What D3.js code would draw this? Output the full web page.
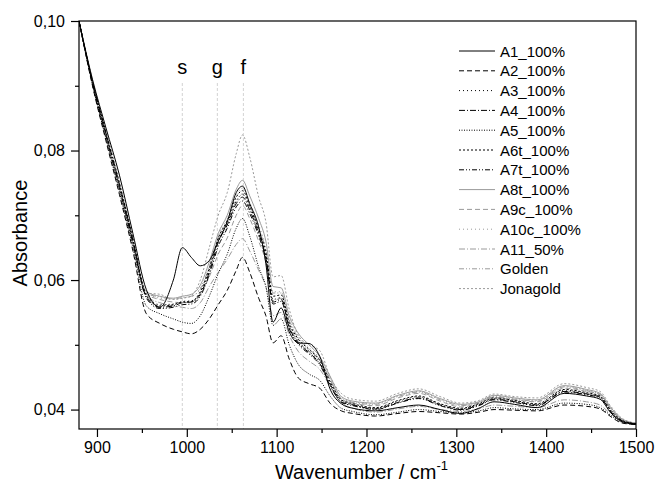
<!DOCTYPE html>
<html>
<head>
<meta charset="utf-8">
<script src="https://cdn.jsdelivr.net/npm/d3@7"></script>
<style>
  body { margin: 0; background: #fff; }
  text { font-family: Arial, "Liberation Sans", sans-serif; }
</style>
</head>
<body>
<script>
var canvasWidth = 655;
var canvasHeight = 485;
var margin = { top: 21, right: 19, bottom: 56, left: 79 };

var wavenumbers = [880, 895, 910, 925, 940, 955, 970, 985, 995, 1005, 1015, 1025, 1035, 1045, 1055, 1062,
    1070, 1080, 1088, 1096, 1105, 1114, 1124, 1136, 1148, 1160, 1172,
    1185, 1210, 1235, 1258, 1282, 1305, 1325, 1342, 1365, 1390, 1420, 1445, 1460, 1472, 1485, 1500];

var A1 = [.1000,.0910,.0835,.0762,.0672,.0585,.0558,.0600,.0650,.0635,.0622,.0630,.0660,.0690,.0735,.0745,.0718,.0682,.0625,.0535,.0557,.0520,.0503,.0502,.0482,.0430,.0409,
    .0402,.0398,.0403,.0407,.0400,.0394,.0402,.0412,.0408,.0403,.0425,.0421,.0416,.0395,.0381,.0378];
var A2 = [.1000,.0900,.0815,.0732,.0645,.0548,.0533,.0524,.0520,.0517,.0524,.0540,.0562,.0584,.0615,.0635,.0612,.0572,.0545,.0503,.0514,.0478,.0449,.0440,.0433,.0409,.0398,
    .0394,.0390,.0394,.0397,.0395,.0393,.0396,.0400,.0399,.0398,.0407,.0405,.0401,.0389,.0379,.0377];
var A3 = [.1000,.0905,.0825,.0745,.0660,.0578,.0562,.0563,.0567,.0568,.0580,.0615,.0662,.0688,.0722,.0732,.0712,.0675,.0638,.0570,.0573,.0530,.0506,.0490,.0473,.0440,.0414,
    .0408,.0402,.0413,.0420,.0408,.0401,.0408,.0417,.0413,.0408,.0430,.0425,.0420,.0398,.0383,.0378];
var A4 = [.1000,.0906,.0827,.0748,.0662,.0574,.0558,.0560,.0565,.0566,.0578,.0612,.0658,.0685,.0718,.0728,.0708,.0672,.0635,.0566,.0570,.0527,.0503,.0488,.0471,.0438,.0412,
    .0407,.0401,.0411,.0418,.0407,.0400,.0407,.0416,.0412,.0407,.0428,.0424,.0419,.0397,.0382,.0378];
var A5 = [.1000,.0902,.0818,.0736,.0650,.0560,.0548,.0540,.0535,.0533,.0545,.0575,.0610,.0640,.0680,.0695,.0668,.0620,.0590,.0530,.0540,.0500,.0470,.0455,.0445,.0420,.0402,
    .0397,.0392,.0396,.0400,.0397,.0395,.0398,.0403,.0401,.0400,.0410,.0408,.0403,.0391,.0380,.0377];
var A6t = [.1000,.0907,.0829,.0750,.0664,.0576,.0560,.0562,.0566,.0567,.0582,.0618,.0665,.0692,.0728,.0738,.0715,.0678,.0642,.0575,.0577,.0534,.0509,.0493,.0476,.0442,.0415,
    .0409,.0403,.0414,.0421,.0409,.0402,.0409,.0418,.0414,.0409,.0431,.0426,.0421,.0399,.0383,.0378];
var A7t = [.1000,.0904,.0823,.0743,.0657,.0572,.0556,.0558,.0562,.0563,.0575,.0608,.0652,.0680,.0713,.0722,.0703,.0668,.0632,.0563,.0567,.0525,.0501,.0486,.0469,.0436,.0411,
    .0406,.0400,.0410,.0417,.0406,.0399,.0406,.0415,.0411,.0406,.0427,.0423,.0418,.0396,.0382,.0377];
var A8t = [.1000,.0903,.0822,.0742,.0658,.0582,.0575,.0572,.0575,.0578,.0592,.0628,.0672,.0700,.0740,.0754,.0730,.0695,.0660,.0590,.0588,.0545,.0518,.0500,.0482,.0450,.0420,
    .0413,.0410,.0422,.0429,.0417,.0408,.0412,.0422,.0418,.0415,.0437,.0431,.0425,.0403,.0385,.0379];
var A9c = [.1000,.0903,.0821,.0740,.0655,.0578,.0570,.0566,.0565,.0566,.0578,.0605,.0640,.0665,.0700,.0715,.0695,.0660,.0628,.0568,.0572,.0530,.0505,.0490,.0476,.0445,.0416,
    .0410,.0406,.0418,.0425,.0413,.0404,.0410,.0419,.0415,.0412,.0433,.0428,.0423,.0401,.0384,.0378];
var A10c = [.1000,.0904,.0823,.0743,.0659,.0580,.0572,.0570,.0572,.0574,.0588,.0622,.0668,.0695,.0730,.0742,.0720,.0685,.0650,.0582,.0582,.0540,.0513,.0496,.0479,.0447,.0418,
    .0412,.0409,.0421,.0428,.0416,.0407,.0411,.0421,.0417,.0414,.0436,.0430,.0424,.0402,.0385,.0378];
var A11 = [.1000,.0904,.0822,.0740,.0655,.0575,.0565,.0560,.0558,.0556,.0565,.0590,.0612,.0632,.0655,.0664,.0645,.0615,.0590,.0545,.0550,.0515,.0490,.0475,.0462,.0435,.0410,
    .0402,.0396,.0401,.0405,.0400,.0397,.0401,.0407,.0405,.0403,.0415,.0412,.0407,.0393,.0381,.0377];
var Golden = [.1000,.0905,.0826,.0746,.0661,.0579,.0574,.0571,.0573,.0575,.0586,.0620,.0665,.0690,.0722,.0733,.0713,.0680,.0646,.0580,.0580,.0538,.0511,.0494,.0477,.0445,.0417,
    .0411,.0408,.0420,.0427,.0415,.0406,.0411,.0420,.0416,.0413,.0435,.0429,.0423,.0401,.0384,.0378];
var Jonagold = [.1000,.0902,.0820,.0740,.0655,.0580,.0578,.0570,.0572,.0576,.0600,.0650,.0700,.0735,.0795,.0824,.0790,.0728,.0690,.0605,.0607,.0555,.0515,.0500,.0491,.0449,.0425,
    .0416,.0413,.0425,.0432,.0420,.0410,.0414,.0424,.0420,.0418,.0440,.0434,.0428,.0405,.0386,.0379];

var seriesNames = ["A1_100%", "A2_100%", "A3_100%", "A4_100%", "A5_100%", "A6t_100%", "A7t_100%",
    "A8t_100%", "A9c_100%", "A10c_100%", "A11_50%", "Golden", "Jonagold"];
var seriesValues = [A1, A2, A3, A4, A5, A6t, A7t, A8t, A9c, A10c, A11, Golden, Jonagold];

// band markers
var markerNames = ["s", "g", "f"];
var markerPositions = [995, 1034, 1063];

var xTicks = [900, 1000, 1100, 1200, 1300, 1400, 1500];
var yTicks = [0.04, 0.06, 0.08, 0.10];

// line look per series (black group then gray group)
var black = "#000", gray = "#9a9a9a";
var strokes = [black, black, black, black, black, black, black, gray, gray, gray, gray, gray, gray];
var dashes = ["none", "5,3", "1,3", "6,2,1,2", "1,1.5", "2,2", "5,2,1,2,1,2",
    "none", "5,3", "1,3", "6,2,1,2", "5,2,1,2,1,2", "2,2"];

var width = canvasWidth - margin.left - margin.right;
var height = canvasHeight - margin.top - margin.bottom;

var svg = d3.select("body").append("svg")
    .attr("width", canvasWidth)
    .attr("height", canvasHeight);

var xScale = d3.scaleLinear().domain([880, 1500]).range([0, width]);
var yScale = d3.scaleLinear().domain([0.037, 0.10]).range([height, 0]);

var g = svg.append("g")
    .attr("transform", "translate(" + margin.left + "," + margin.top + ")");

g.append("clipPath").attr("id", "clip")
    .append("rect").attr("width", width).attr("height", height);

// marker lines
markerPositions.forEach(function(w, i) {
    g.append("line")
        .attr("x1", xScale(w)).attr("x2", xScale(w))
        .attr("y1", 62).attr("y2", height)
        .attr("stroke", "#c8c8c8")
        .attr("stroke-width", 0.8)
        .attr("stroke-dasharray", "3,2");
    g.append("text")
        .attr("x", xScale(w))
        .attr("y", 53)
        .attr("text-anchor", "middle")
        .attr("font-size", "20px")
        .text(markerNames[i]);
});

var line = d3.line()
    .x(function(d, i) { return xScale(wavenumbers[i]); })
    .y(function(d) { return yScale(d); })
    .curve(d3.curveMonotoneX);

var lines = g.append("g").attr("clip-path", "url(#clip)");
// draw gray ones first so black stays on top
for (var k = seriesValues.length - 1; k >= 0; k--) {
    lines.append("path")
        .datum(seriesValues[k])
        .attr("d", line)
        .attr("fill", "none")
        .attr("stroke", strokes[k])
        .attr("stroke-width", 1)
        .attr("stroke-dasharray", dashes[k]);
}

// frame
g.append("rect")
    .attr("width", width).attr("height", height)
    .attr("fill", "none")
    .attr("stroke", "#000")
    .attr("stroke-width", 1.2);

var fmt = function(d) { return d3.format(".2f")(d).replace(".", ","); };

// x axis
var xAxis = g.append("g")
    .attr("transform", "translate(0," + height + ")")
    .call(d3.axisBottom(xScale).tickValues(xTicks).tickSize(8).tickPadding(5).tickFormat(d3.format("d")));
g.append("g")
    .attr("transform", "translate(0," + height + ")")
    .call(d3.axisBottom(xScale).tickValues([950, 1050, 1150, 1250, 1350, 1450]).tickSize(4).tickFormat(""));

// y axis
g.append("g")
    .call(d3.axisLeft(yScale).tickValues(yTicks).tickSize(8).tickPadding(6).tickFormat(fmt));
g.append("g")
    .call(d3.axisLeft(yScale).tickValues([0.05, 0.07, 0.09]).tickSize(4).tickFormat(""));

g.selectAll(".domain").remove();
g.selectAll(".tick line").attr("stroke", "#000").attr("stroke-width", 1.2);
g.selectAll(".tick text").attr("font-size", "16px").attr("fill", "#000")
    .attr("font-family", "Arial, 'Liberation Sans', sans-serif");

// axis titles
var xt = svg.append("text")
    .attr("x", margin.left + width / 2 + 4)
    .attr("y", 479)
    .attr("text-anchor", "middle")
    .attr("font-size", "20px")
    .text("Wavenumber / cm");
xt.append("tspan").attr("dy", -9).attr("font-size", "13px").text("-1");

svg.append("text")
    .attr("transform", "translate(27," + 233 + ") rotate(-90)")
    .attr("text-anchor", "middle")
    .attr("font-size", "20px")
    .text("Absorbance");

// legend
var legend = svg.append("g").attr("transform", "translate(459,51)");
seriesNames.forEach(function(name, i) {
    legend.append("line")
        .attr("x1", 0).attr("x2", 36)
        .attr("y1", i * 19.8).attr("y2", i * 19.8)
        .attr("stroke", strokes[i])
        .attr("stroke-width", 1)
        .attr("stroke-dasharray", dashes[i]);
    legend.append("text")
        .attr("x", 41)
        .attr("y", i * 19.8 + 5.5)
        .attr("font-size", "15px")
        .text(name);
});
</script>
</body>
</html>
